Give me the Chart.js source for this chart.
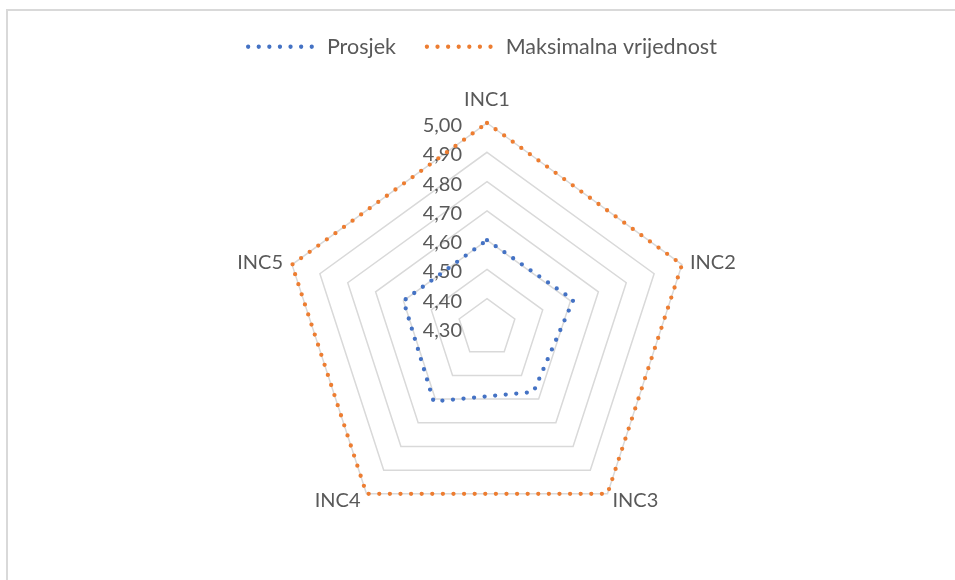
<!DOCTYPE html>
<html><head><meta charset="utf-8">
<script src="https://cdn.jsdelivr.net/npm/chart.js@4"></script>
<style>
html,body{margin:0;padding:0;background:#fff;width:955px;height:580px;overflow:hidden}
#frame{position:absolute;left:6px;top:9px;width:1000px;height:1000px;border-left:2px solid #d9d9d9;border-top:2px solid #d9d9d9;}
canvas{position:absolute;left:0;top:0}
</style></head><body>
<div id="frame"></div>
<canvas id="c" width="955" height="580"></canvas>
<script>
const categories = ['INC1', 'INC2', 'INC3', 'INC4', 'INC5'];
const seriesNames = ['Prosjek', 'Maksimalna vrijednost'];
const prosjek = [4.60, 4.61, 4.57, 4.61, 4.60];
const maksimalna = [5.00, 5.00, 5.00, 5.00, 5.00];
const tickValues = [4.30, 4.40, 4.50, 4.60, 4.70, 4.80, 4.90, 5.00];
const tickLabels = ['4,30', '4,40', '4,50', '4,60', '4,70', '4,80', '4,90', '5,00'];

const TEXT = '#595959';
const FONT = '20px Lato';
const COLORS = ['#4472C4', '#ED7D31'];
const DASH = [0, 10.6];
const LW = 4.3;

const legendGap = {
  id: 'legendGap',
  beforeInit(chart) {
    const orig = chart.legend.fit;
    chart.legend.fit = function () { orig.call(this); this.height += 55.5; };
  },
  afterLayout(chart) {
    chart.legend.left -= 5;
    chart.legend.right -= 5;
  }
};

const axisText = {
  id: 'axisText',
  beforeDatasetsDraw(chart) {
    const s = chart.scales.r;
    const ctx = chart.ctx;
    ctx.save();
    ctx.font = FONT;
    ctx.fillStyle = TEXT;
    ctx.textAlign = 'right';
    ctx.textBaseline = 'alphabetic';
    tickValues.forEach((v, i) => {
      const y = s.yCenter - s.getDistanceFromCenterForValue(v);
      ctx.fillText(tickLabels[i], s.xCenter - 25, y + 9);
    });
    categories.forEach((lab, i) => {
      const p = s.getPointPosition(i, s.drawingArea);
      const sx = Math.sin(p.angle + Math.PI / 2);
      const cy = -Math.cos(p.angle + Math.PI / 2);
      let x = p.x, y = p.y;
      if (Math.abs(sx) < 0.1) { ctx.textAlign = 'center'; y = p.y - 17; }
      else if (cy < 0) { ctx.textAlign = sx > 0 ? 'left' : 'right'; x = p.x + (sx > 0 ? 8 : -9); y = p.y + 4; }
      else { ctx.textAlign = sx > 0 ? 'left' : 'right'; x = p.x + (sx > 0 ? 5 : -6); y = p.y + 13; }
      ctx.fillText(lab, x, y);
    });
    ctx.restore();
  }
};

Chart.defaults.font.family = 'Lato';
Chart.defaults.color = TEXT;

function series(i, values) {
  return { label: seriesNames[i], data: values, borderColor: COLORS[i], backgroundColor: COLORS[i],
    borderWidth: LW, borderDash: DASH, borderCapStyle: 'round', borderJoinStyle: 'round',
    fill: false, pointRadius: 0, pointHoverRadius: 0, tension: 0 };
}

new Chart(document.getElementById('c'), {
  type: 'radar',
  data: {
    labels: categories,
    datasets: [series(0, prosjek), series(1, maksimalna)]
  },
  options: {
    responsive: false,
    animation: false,
    layout: { padding: { top: 5, left: 20, right: 0, bottom: 47 } },
    plugins: {
      legend: {
        position: 'top',
        labels: {
          usePointStyle: true, pointStyle: 'line', pointStyleWidth: 68, padding: 31,
          font: { size: 21.5, family: 'Lato' }, color: TEXT,
          generateLabels(chart) {
            return chart.data.datasets.map((d, i) => ({
              text: d.label, fillStyle: d.borderColor, strokeStyle: d.borderColor,
              lineWidth: LW, lineDash: DASH, lineCap: 'round', lineJoin: 'round',
              pointStyle: 'line', fontColor: TEXT, hidden: false, datasetIndex: i
            }));
          }
        }
      },
      tooltip: { enabled: false }
    },
    scales: {
      r: {
        min: 4.3, max: 5.0,
        ticks: { display: false, stepSize: 0.1 },
        pointLabels: { display: false },
        angleLines: { display: false },
        grid: { color: '#d9d9d9', lineWidth: 1.5 }
      }
    }
  },
  plugins: [legendGap, axisText]
});
</script>
</body></html>
